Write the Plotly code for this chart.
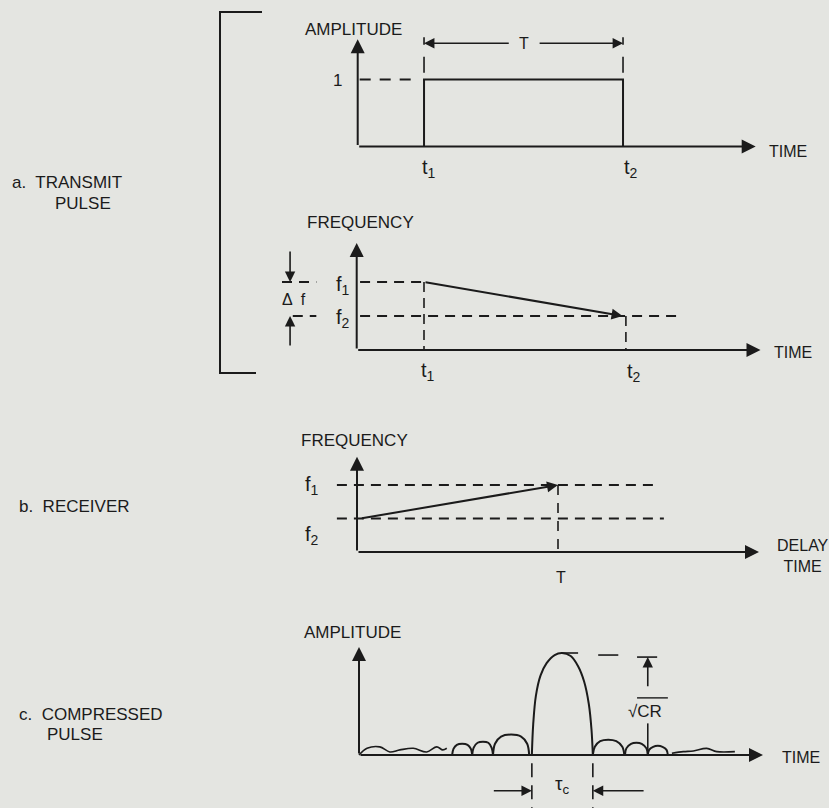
import plotly.graph_objects as go

W, H = 829, 808
INK = "#1b1b1b"
BG = "#e4e5e1"
FONT = "Liberation Sans, Arial, Helvetica, sans-serif"

# ------------------------------------------------------------------ data
# a. transmit pulse — amplitude vs time
TX_T = [1.0, 4.0]                 # t1, t2
TX_AMP = 1.0
TX_TIME_END = 6.0
TX_AMP_AXIS_TOP = 1.6
TX_T_LEVEL = 1.54                 # level of the "T" dimension arrow
TX_T_BAR = [1.1, 1.63]
TX_LEVEL_DASH = [0.03, 0.83]

# a. transmit pulse — frequency vs time
TXF_F = [2.0, 1.0]                # f1 at t1, f2 at t2
TXF_AXIS_TOP = 3.15
TXF_F1_DASH = [[-1.11, -0.6], [0.05, 1.0]]
TXF_F2_DASH = [[-0.95, -0.6], [0.05, 4.8]]
TXF_DF_X = -0.99
TXF_DF_ARROW = [[2.94, 2.0], [0.09, 1.0]]

# b. receiver — frequency vs delay time
RX_T = 3.0
RX_F = [1.0, 2.0]                 # f2 at start, f1 at T
RX_START = 0.05
RX_AXIS_TOP = 2.84
RX_TIME_END = 6.0
RX_DASH = [-0.3, 4.5]

# c. compressed pulse — amplitude vs time
MAIN_X = [2.58, 2.60, 2.64, 2.71, 2.80, 2.92, 3.03, 3.16, 3.27, 3.36, 3.43, 3.47, 3.49]
MAIN_Y = [0.0, 0.30, 0.58, 0.78, 0.90, 0.98, 1.00, 0.97, 0.87, 0.72, 0.50, 0.25, 0.0]
SIDE_X = [1.39, 1.41, 1.46, 1.54, 1.62, 1.67, 1.69, None,
          1.69, 1.71, 1.77, 1.85, 1.93, 1.98, 2.00, None,
          2.00, 2.03, 2.12, 2.27, 2.42, 2.51, 2.54, None,
          3.49, 3.52, 3.60, 3.72, 3.84, 3.93, 3.96, None,
          3.97, 3.99, 4.06, 4.14, 4.22, 4.29, 4.31, None,
          4.31, 4.33, 4.39, 4.46, 4.53, 4.59, 4.61]
SIDE_Y = [0, 0.06, 0.10, 0.11, 0.10, 0.06, 0, None,
          0, 0.07, 0.12, 0.13, 0.12, 0.07, 0, None,
          0, 0.11, 0.18, 0.20, 0.18, 0.11, 0, None,
          0, 0.08, 0.135, 0.15, 0.135, 0.08, 0, None,
          0, 0.065, 0.11, 0.12, 0.11, 0.065, 0, None,
          0, 0.05, 0.08, 0.09, 0.08, 0.05, 0]
NOISE_L_X = [0.0, 0.12, 0.31, 0.46, 0.61, 0.81, 1.01, 1.16, 1.25, 1.31]
NOISE_L_Y = [0.0, 0.066, 0.08, 0.03, 0.05, 0.066, 0.03, 0.08, 0.05, 0.066]
NOISE_R_X = [4.67, 4.84, 4.99, 5.19, 5.34, 5.61]
NOISE_R_Y = [0.017, 0.033, 0.04, 0.065, 0.033, 0.033]
C_TIME_END = 6.03
C_AXIS_TOP = 1.06
TAU_C = [2.58, 3.49]
TAU_LEVEL = -0.35
TAU_BAR = [-0.08, -0.55]
TAU_ARROW_FROM = [1.99, 4.27]
PEAK_TICK = [3.03, 3.27]
PEAK_DASH = [3.57, 3.87]
CR_X = 4.31
CR_TOP = 0.96
CR_ARROW_FROM = 0.66
CR_STEM = [0.31, 0.0]
CR_BAR = [4.15, 4.45]

# ------------------------------------------------------------------ layout helpers
# pixel anchors for each panel: origin, px per unit, vertical band
PANELS = [
    dict(ox=357.7, oy=146.5, sx=66.33, sy=67.0, top=5, bottom=185),
    dict(ox=356.7, oy=350.0, sx=67.3, sy=34.0, top=205, bottom=395),
    dict(ox=357.0, oy=552.0, sx=67.0, sy=33.5, top=425, bottom=600),
    dict(ox=359.0, oy=755.0, sx=67.0, sy=102.0, top=612, bottom=808),
]

fig = go.Figure()
layout_axes = {}
for i, p in enumerate(PANELS, start=1):
    s = "" if i == 1 else str(i)
    layout_axes["xaxis" + s] = dict(domain=[0, 1], range=[(0 - p["ox"]) / p["sx"], (W - p["ox"]) / p["sx"]],
                                    visible=False, fixedrange=True, anchor="y" + s)
    layout_axes["yaxis" + s] = dict(domain=[1 - p["bottom"] / H, 1 - p["top"] / H],
                                    range=[(p["oy"] - p["bottom"]) / p["sy"], (p["oy"] - p["top"]) / p["sy"]],
                                    visible=False, fixedrange=True, anchor="x" + s)

annotations = []


def ax_ids(i):
    s = "" if i == 1 else str(i)
    return "x" + s, "y" + s


def seg(i, xs, ys, dash=None, width=2.0, shape="linear"):
    xa, ya = ax_ids(i)
    fig.add_trace(go.Scatter(x=xs, y=ys, xaxis=xa, yaxis=ya, mode="lines", hoverinfo="skip",
                             line=dict(color=INK, width=width, dash=dash, shape=shape),
                             showlegend=False, cliponaxis=False))


def arrow(i, x0, y0, x1, y1, size=1.4, width=2.0):
    xa, ya = ax_ids(i)
    annotations.append(dict(x=x1, y=y1, ax=x0, ay=y0, xref=xa, yref=ya, axref=xa, ayref=ya,
                            text="", showarrow=True, arrowhead=2, arrowsize=size,
                            arrowwidth=width, arrowcolor=INK, standoff=0, startstandoff=0))


def label(i, x, y, text, size=17, xanchor="center"):
    xa, ya = ax_ids(i)
    annotations.append(dict(x=x, y=y, xref=xa, yref=ya, text=text, showarrow=False,
                            xanchor=xanchor, yanchor="middle",
                            font=dict(family=FONT, size=size, color=INK)))


def paper_label(px, py, text, size=17):
    annotations.append(dict(x=px / W, y=1 - py / H, xref="paper", yref="paper", text=text,
                            showarrow=False, xanchor="left", yanchor="middle",
                            font=dict(family=FONT, size=size, color=INK)))


DASH = "10px,7px"

# ---- panel a (amplitude)
arrow(1, 0, 0, 0, TX_AMP_AXIS_TOP)
arrow(1, 0, 0, TX_TIME_END, 0)
seg(1, [TX_T[0], TX_T[0], TX_T[1], TX_T[1]], [0, TX_AMP, TX_AMP, 0])
seg(1, TX_LEVEL_DASH, [TX_AMP, TX_AMP], dash="11px,9px", width=1.8)
for t in TX_T:
    seg(1, [t, t], TX_T_BAR, dash="16px,12px", width=1.6)
arrow(1, 2.3, TX_T_LEVEL, TX_T[0], TX_T_LEVEL, size=1.3, width=1.6)
arrow(1, 2.72, TX_T_LEVEL, TX_T[1], TX_T_LEVEL, size=1.3, width=1.6)
label(1, 2.5, TX_T_LEVEL, "T", 16)
label(1, -0.07, 1.75, "AMPLITUDE", 17)
label(1, -0.31, 0.98, "1", 17)
label(1, TX_T[0] + 0.07, -0.33, "t<sub>1</sub>", 20)
label(1, TX_T[1] + 0.12, -0.33, "t<sub>2</sub>", 20)
label(1, 6.17, -0.07, "TIME", 16, "left")

# ---- panel a (frequency)
arrow(2, 0, 0, 0, TXF_AXIS_TOP)
arrow(2, 0, 0, 6.0, 0)
for d in TXF_F1_DASH:
    seg(2, d, [TXF_F[0], TXF_F[0]], dash=DASH, width=1.8)
for d in TXF_F2_DASH:
    seg(2, d, [TXF_F[1], TXF_F[1]], dash=DASH, width=1.8)
seg(2, [TX_T[0], TX_T[0]], [TXF_F[0], 0], dash="10px,6px", width=1.6)
seg(2, [TX_T[1], TX_T[1]], [TXF_F[1], 0], dash="10px,6px", width=1.6)
arrow(2, TX_T[0], TXF_F[0], TX_T[1] - 0.05, TXF_F[1], size=1.1, width=2)
for a0, a1 in TXF_DF_ARROW:
    arrow(2, TXF_DF_X, a0, TXF_DF_X, a1, size=1.3, width=1.6)
label(2, -0.93, 1.48, "Δ  f", 16)
label(2, -0.2, 1.9, "f<sub>1</sub>", 20)
label(2, -0.2, 0.93, "f<sub>2</sub>", 20)
label(2, 0.05, 3.74, "FREQUENCY", 17)
label(2, TX_T[0] + 0.06, -0.62, "t<sub>1</sub>", 20)
label(2, TX_T[1] + 0.12, -0.66, "t<sub>2</sub>", 20)
label(2, 6.17, -0.06, "TIME", 16, "left")

# ---- panel b (receiver)
arrow(3, 0, 0, 0, RX_AXIS_TOP)
arrow(3, 0, 0, RX_TIME_END, 0)
seg(3, RX_DASH, [RX_F[1], RX_F[1]], dash=DASH, width=1.8)
seg(3, [RX_DASH[0], RX_DASH[1] + 0.08], [RX_F[0], RX_F[0]], dash=DASH, width=1.8)
seg(3, [RX_T, RX_T], [RX_F[1], 0], dash="10px,8px", width=1.6)
arrow(3, RX_START, RX_F[0], RX_T, RX_F[1], size=1.1, width=2)
label(3, -0.03, 3.34, "FREQUENCY", 17)
label(3, -0.67, 2.0, "f<sub>1</sub>", 20)
label(3, -0.67, 0.5, "f<sub>2</sub>", 20)
label(3, RX_T + 0.05, -0.75, "T", 16)
label(3, 6.24, -0.12, "DELAY<br>TIME", 16, "left")

# ---- panel c (compressed pulse)
arrow(4, 0, 0, 0, C_AXIS_TOP)
arrow(4, 0, 0, C_TIME_END, 0)
seg(4, MAIN_X, MAIN_Y, width=2, shape="spline")
seg(4, SIDE_X, SIDE_Y, width=2, shape="spline")
seg(4, NOISE_L_X, NOISE_L_Y, width=1.6, shape="spline")
seg(4, NOISE_R_X, NOISE_R_Y, width=1.6, shape="spline")
seg(4, PEAK_TICK, [1.0, 1.0], width=1.6)
seg(4, PEAK_DASH, [0.98, 0.98], width=1.6)
seg(4, CR_BAR, [CR_TOP, CR_TOP], width=1.6)
arrow(4, CR_X, CR_ARROW_FROM, CR_X, CR_TOP, size=1.3, width=1.6)
seg(4, [CR_X, CR_X], CR_STEM, width=1.6)
seg(4, [4.15, 4.61], [0.56, 0.56], width=1.4)
label(4, 4.27, 0.43, "√CR", 17)
for t in TAU_C:
    seg(4, [t, t], TAU_BAR, dash="14px,8px", width=1.6)
arrow(4, TAU_ARROW_FROM[0], TAU_LEVEL, TAU_C[0], TAU_LEVEL, size=1.3, width=1.6)
arrow(4, TAU_ARROW_FROM[1], TAU_LEVEL, TAU_C[1], TAU_LEVEL, size=1.3, width=1.6)
label(4, 3.04, -0.29, "τ<sub>c</sub>", 19)
label(4, -0.1, 1.2, "AMPLITUDE", 17)
label(4, 6.28, -0.02, "TIME", 16, "left")

# ---- left-hand captions
paper_label(10, 183, "a.  TRANSMIT")
paper_label(53, 203, "PULSE")
paper_label(17, 506, "b.  RECEIVER")
paper_label(17, 714, "c.  COMPRESSED")
paper_label(45, 734, "PULSE")

# bracket for part a
shapes = [
    dict(type="path", xref="paper", yref="paper",
         path=f"M {262 / W},{1 - 12 / H} L {220 / W},{1 - 12 / H} L {220 / W},{1 - 373 / H} L {256 / W},{1 - 373 / H}",
         line=dict(color=INK, width=2)),
]

fig.update_layout(
    width=W, height=H, margin=dict(l=0, r=0, t=0, b=0),
    paper_bgcolor=BG, plot_bgcolor="rgba(0,0,0,0)",
    showlegend=False, annotations=annotations, shapes=shapes,
    font=dict(family=FONT, color=INK),
    **layout_axes,
)

fig.write_html(
    "out.html",
    config={"displayModeBar": False},
    post_script="document.body.style.margin='0';document.body.style.overflow='hidden';",
)
